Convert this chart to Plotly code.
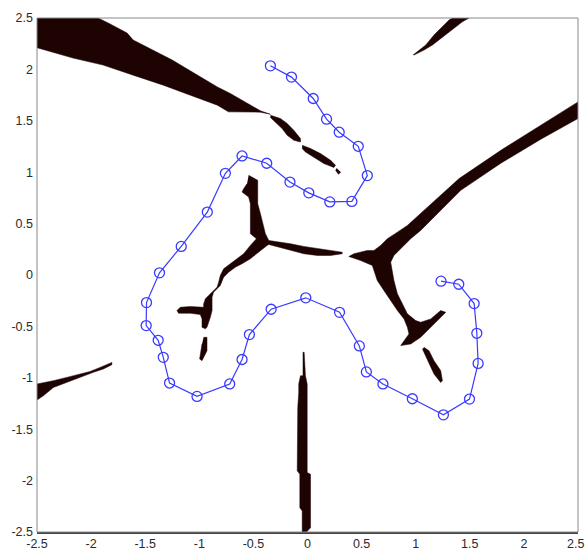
import plotly.graph_objects as go

# ---- path (blue line with open circles) ----
path_x = [-0.343, -0.148, 0.053, 0.176, 0.293, 0.469, 0.553, 0.410, 0.206, 0.012,
          -0.162, -0.377, -0.605, -0.759, -0.926, -1.167, -1.368, -1.488, -1.491, -1.380,
          -1.333, -1.275, -1.021, -0.719, -0.605, -0.537, -0.336, -0.016, 0.296, 0.479,
          0.544, 0.697, 0.969, 1.256, 1.497, 1.577, 1.565, 1.540, 1.398, 1.234]
path_y = [2.035, 1.925, 1.717, 1.516, 1.389, 1.252, 0.967, 0.716, 0.711, 0.799,
          0.904, 1.087, 1.158, 0.989, 0.612, 0.278, 0.021, -0.268, -0.492, -0.635,
          -0.801, -1.051, -1.181, -1.060, -0.822, -0.580, -0.333, -0.222, -0.363, -0.690,
          -0.943, -1.060, -1.204, -1.360, -1.207, -0.860, -0.567, -0.278, -0.090, -0.060]

# ---- dark regions (outlines in data units) ----
regA_x = [-2.5, -1.935, -1.824, -1.667, -1.611, -1.426, -1.25, -0.991, -0.833, -0.713, -0.556, -0.435, -0.343,
          -0.435, -0.731, -0.833, -1.083, -1.333, -1.611, -1.889, -2.167, -2.407, -2.5]
regA_y = [2.5, 2.5, 2.442, 2.354, 2.286, 2.188, 2.091, 1.928, 1.830, 1.766, 1.669, 1.597, 1.564,
          1.584, 1.587, 1.652, 1.749, 1.847, 1.944, 2.042, 2.110, 2.188, 2.211]

regA2_x = [-0.343, -0.25, -0.188, -0.127, -0.065, -0.065, -0.127, -0.188, -0.235, -0.296, -0.343]
regA2_y = [1.555, 1.522, 1.474, 1.408, 1.327, 1.294, 1.311, 1.360, 1.425, 1.489, 1.532]

regA3_x = [-0.049, 0.028, 0.120, 0.213, 0.259, 0.244, 0.151, 0.058, -0.019, -0.049]
regA3_y = [1.262, 1.230, 1.181, 1.116, 1.067, 1.045, 1.084, 1.148, 1.197, 1.230]

regA4_x = [0.269, 0.306, 0.287, 0.259]
regA4_y = [1.038, 0.999, 0.980, 1.019]

regB_x = [0.975, 1.031, 1.093, 1.169, 1.216, 1.262, 1.308, 1.340, 1.494, 1.432, 1.370, 1.308,
          1.231, 1.155, 1.077, 1.016, 0.984]
regB_y = [2.139, 2.188, 2.237, 2.334, 2.383, 2.432, 2.481, 2.5, 2.5, 2.464, 2.415, 2.367,
          2.302, 2.237, 2.188, 2.156, 2.139]

regC_x = [2.5, 2.157, 1.787, 1.401, 1.231, 1.108, 1.016, 0.923, 0.831, 0.738, 0.676, 0.614, 0.553,
          0.429, 0.382, 0.491, 0.599, 0.614, 0.645, 0.706, 0.769, 0.831, 0.892, 0.923, 0.938, 0.861,
          0.954, 1.046, 1.139, 1.231, 1.278, 1.231, 1.139, 1.046, 1.0, 0.923, 0.877, 0.831, 0.799,
          0.784, 0.769, 0.799, 0.877, 0.954, 1.046, 1.139, 1.231, 1.324, 1.417, 1.787, 2.157, 2.5]
regC_y = [1.684, 1.457, 1.213, 0.938, 0.775, 0.661, 0.563, 0.482, 0.417, 0.353, 0.288, 0.239, 0.239,
          0.207, 0.180, 0.141, 0.093, 0.044, -0.054, -0.151, -0.249, -0.346, -0.427, -0.509, -0.573, -0.687,
          -0.671, -0.606, -0.509, -0.411, -0.363, -0.346, -0.427, -0.460, -0.443, -0.378, -0.281, -0.183, -0.054,
          0.044, 0.125, 0.190, 0.271, 0.353, 0.434, 0.531, 0.629, 0.726, 0.824, 1.087, 1.321, 1.522]

regC2_x = [1.077, 1.123, 1.169, 1.231, 1.247, 1.231, 1.169, 1.123, 1.093, 1.062]
regC2_y = [-0.704, -0.736, -0.833, -0.930, -1.028, -1.045, -0.963, -0.865, -0.785, -0.719]

regD_x = [-0.544, -0.460, -0.460, -0.460, -0.435, -0.410, -0.389, -0.358, -0.25, -0.157, -0.034, 0.090,
          0.213, 0.321, 0.321, 0.213, 0.090, -0.034, -0.157, -0.281, -0.358, -0.373, -0.451, -0.528,
          -0.605, -0.667, -0.729, -0.775, -0.806, -0.836, -0.868, -0.882, -0.882, -0.898, -0.929, -0.944,
          -0.975, -0.975, -0.991, -1.083, -1.192, -1.206, -1.176, -1.083, -0.960, -0.960, -0.944, -0.914,
          -0.868, -0.836, -0.821, -0.806, -0.775, -0.713, -0.651, -0.590, -0.528, -0.472, -0.528, -0.528,
          -0.528, -0.528, -0.544, -0.605, -0.590, -0.558]
regD_y = [0.970, 0.921, 0.791, 0.694, 0.596, 0.499, 0.402, 0.336, 0.320, 0.304, 0.278, 0.255,
          0.239, 0.222, 0.207, 0.190, 0.190, 0.207, 0.239, 0.271, 0.297, 0.288, 0.222, 0.158,
          0.109, 0.076, 0.027, -0.021, -0.102, -0.135, -0.168, -0.216, -0.346, -0.411, -0.509, -0.524,
          -0.509, -0.427, -0.385, -0.372, -0.372, -0.346, -0.314, -0.307, -0.314, -0.281, -0.232, -0.200,
          -0.151, -0.119, -0.070, -0.005, 0.060, 0.109, 0.158, 0.207, 0.288, 0.353, 0.402, 0.499,
          0.596, 0.694, 0.758, 0.807, 0.840, 0.889]

regD2_x = [-0.960, -0.929, -0.929, -0.975, -0.997, -0.975]
regD2_y = [-0.606, -0.606, -0.736, -0.833, -0.817, -0.671]

regE_x = [-0.044, -0.031, -0.019, -0.003, -0.003, 0.028, 0.028, -0.009, -0.049, -0.049, -0.071, -0.071,
          -0.095, -0.095, -0.090, -0.081, -0.081, -0.065, -0.044]
regE_y = [-0.752, -0.752, -0.980, -1.060, -1.922, -1.938, -2.458, -2.5, -2.5, -2.295, -2.263, -1.938,
          -1.905, -1.581, -1.288, -1.142, -1.060, -0.980, -0.980]

regF_x = [-2.5, -2.410, -2.349, -2.225, -2.102, -2.009, -1.917, -1.855, -1.808,
          -1.808, -1.886, -1.979, -2.102, -2.225, -2.349, -2.441, -2.5]
regF_y = [-1.060, -1.045, -1.028, -0.996, -0.963, -0.938, -0.899, -0.872, -0.850,
          -0.872, -0.914, -0.947, -0.996, -1.045, -1.094, -1.175, -1.217]

tick_vals = [-2.5, -2, -1.5, -1, -0.5, 0, 0.5, 1, 1.5, 2, 2.5]
tick_text = ["-2.5", "-2", "-1.5", "-1", "-0.5", "0", "0.5", "1", "1.5", "2", "2.5"]

DARK = "#1e0303"
regions = [(regA_x, regA_y), (regA2_x, regA2_y), (regA3_x, regA3_y), (regA4_x, regA4_y),
           (regB_x, regB_y), (regC_x, regC_y), (regC2_x, regC2_y), (regD_x, regD_y),
           (regD2_x, regD2_y), (regE_x, regE_y), (regF_x, regF_y)]

fig = go.Figure()
for rx, ry in regions:
    fig.add_trace(go.Scatter(x=rx, y=ry, mode="lines", fill="toself",
                             fillcolor=DARK, line=dict(color=DARK, width=0.5),
                             hoverinfo="skip", showlegend=False))

fig.add_trace(go.Scatter(x=path_x, y=path_y, mode="lines+markers",
                         line=dict(color="#3a3aff", width=1.2),
                         marker=dict(symbol="circle-open", size=10, color="#3a3aff",
                                     line=dict(width=1.3)),
                         showlegend=False))

TICKFONT = dict(family="Liberation Sans, Arial", size=12.5, color="#2a2a2a")
axis_common = dict(range=[-2.5, 2.5], tickvals=tick_vals,
                   showgrid=False, zeroline=False, ticks="", automargin=False,
                   tickfont=TICKFONT)

# last x tick label sits at the window edge: draw it right-anchored so it is not clipped
x_ticktext = tick_text[:-1] + [""]

fig.update_layout(
    width=585, height=550,
    margin=dict(l=37, r=7, t=18, b=18),
    paper_bgcolor="white", plot_bgcolor="white",
    xaxis=dict(**axis_common, ticktext=x_ticktext, showline=True, linecolor="#444444",
               linewidth=2, ticklabelstandoff=-1),
    yaxis=dict(**axis_common, ticktext=tick_text, showline=False, ticklabelstandoff=3),
    shapes=[dict(type="rect", xref="paper", yref="paper", x0=0, y0=0, x1=1, y1=1,
                 line=dict(color="#888888", width=1), layer="above")],
    annotations=[dict(text=tick_text[-1], x=tick_vals[-1], xref="x", y=0, yref="paper",
                      xanchor="right", yanchor="middle", xshift=7, yshift=-12,
                      showarrow=False, font=TICKFONT, borderpad=0)],
)

fig.write_html("out.html", config={"displayModeBar": False},
               post_script="document.body.style.margin='0';document.body.style.overflow='hidden';")
